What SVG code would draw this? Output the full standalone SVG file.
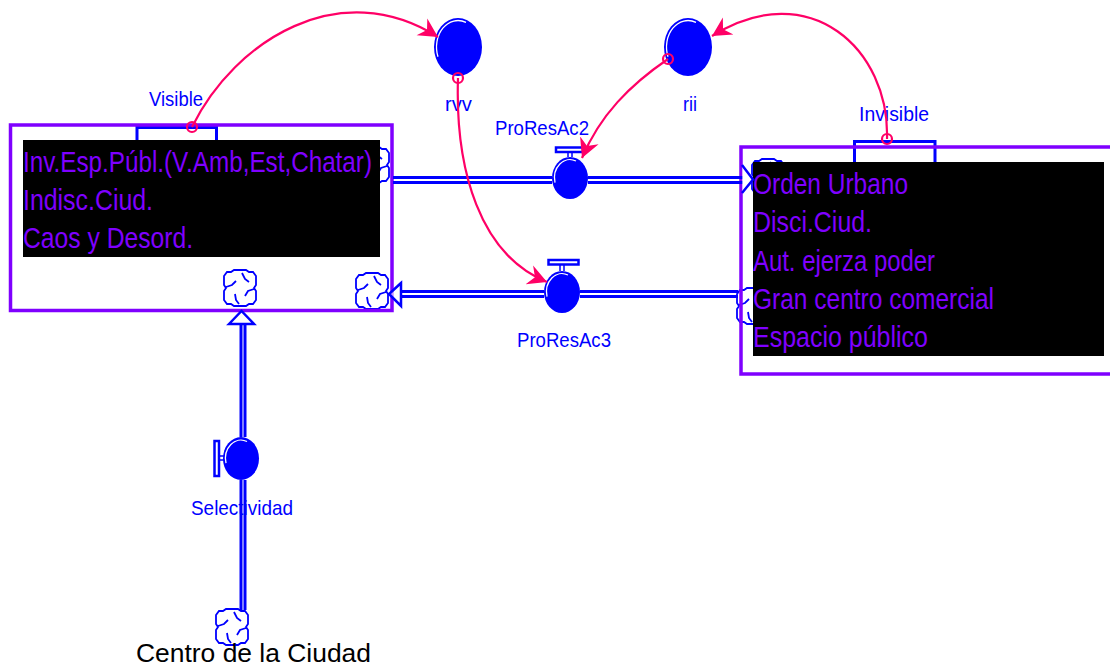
<svg xmlns="http://www.w3.org/2000/svg" width="1110" height="665" viewBox="0 0 1110 665">
<style>
text{font-family:"Liberation Sans",Arial,sans-serif}
.lbl{font-size:21px;fill:#0000ff}
.big{font-size:29px;fill:#7f00ff}
.box{fill:none;stroke:#7f00ff;stroke-width:3.5}
.tab{fill:none;stroke:#0000ff;stroke-width:3}
.panel{fill:#000}
.flow{fill:none;stroke:#0000ff;stroke-width:3}
.head{fill:#fff;fill-opacity:.6;stroke:#0000ff;stroke-width:2.5}
.dot{fill:#0000ff}
.shine{fill:none;stroke:#fff;stroke-width:1.300}
.link{fill:none;stroke:#ff0066;stroke-width:2.2;marker-end:url(#pink)}
.origin{fill:none;stroke:#ff0066;stroke-width:2.200}
.cl{fill:#fff;stroke:#0000ff;stroke-width:1.800}
.sw{fill:none;stroke:#0000ff;stroke-width:1.800}
</style>
<defs>
<marker id="pink" markerUnits="userSpaceOnUse" markerWidth="24" markerHeight="24" refX="19" refY="11" orient="auto"><path d="M0 1L19 11L0 21L6 11Z" fill="#ff0066"/></marker>
<g id="cloud">
<path class="cl" d="M-6-18H6L9-16H13L16-12V-3L14 0L16 3V12L13 16H9L6 18H-6L-9 16H-13L-16 12V3L-14 0L-16-3V-12L-13-16H-9Z"/>
<path class="sw" d="M2-15L5-9L9-6M14 1L8 3L5 8M-1 16L-4 12L-5 6M-14-1L-8-3L-4-7"/>
</g>
</defs>
<g id="stock-visible">
<path class="tab" d="M137 140V127.500H216.500V140"/>
<use href="#cloud" x="373" y="165"/>
<use href="#cloud" x="240" y="288"/>
<use href="#cloud" x="372" y="291"/>
<rect class="box" x="10.500" y="125" width="381.500" height="185.500"/>
<rect class="panel" x="23" y="140" width="357" height="117"/>
<text class="big" x="23" y="172" textLength="349" lengthAdjust="spacingAndGlyphs">Inv.Esp.Públ.(V.Amb,Est,Chatar)</text>
<text class="big" x="23" y="210" textLength="130" lengthAdjust="spacingAndGlyphs">Indisc.Ciud.</text>
<text class="big" x="23" y="248" textLength="170" lengthAdjust="spacingAndGlyphs">Caos y Desord.</text>
<text class="lbl" x="149" y="106" textLength="54" lengthAdjust="spacingAndGlyphs">Visible</text>
</g>
<g id="stock-invisible">
<path class="tab" d="M854.500 162V141.500H935V162"/>
<use href="#cloud" x="768" y="177"/>
<use href="#cloud" x="753" y="306"/>
<rect class="box" x="741" y="147" width="375" height="227"/>
<rect class="panel" x="753" y="162" width="351" height="194"/>
<text class="big" x="753" y="194" textLength="155" lengthAdjust="spacingAndGlyphs">Orden Urbano</text>
<text class="big" x="753" y="232" textLength="119" lengthAdjust="spacingAndGlyphs">Disci.Ciud.</text>
<text class="big" x="753" y="271" textLength="182" lengthAdjust="spacingAndGlyphs">Aut. ejerza poder</text>
<text class="big" x="753" y="309" textLength="241" lengthAdjust="spacingAndGlyphs">Gran centro comercial</text>
<text class="big" x="753" y="347" textLength="175" lengthAdjust="spacingAndGlyphs">Espacio público</text>
<text class="lbl" x="859" y="121" textLength="70" lengthAdjust="spacingAndGlyphs">Invisible</text>
</g>
<g id="converter-rvv">
<ellipse class="dot" cx="458" cy="47" rx="24" ry="29"/>
<path class="shine" d="M438 56.700A21.500 26.500 0 0 1 466 22.400"/>
<text class="lbl" x="445" y="111" textLength="27" lengthAdjust="spacingAndGlyphs">rvv</text>
</g>
<g id="converter-rii">
<ellipse class="dot" cx="688" cy="47" rx="24" ry="29"/>
<path class="shine" d="M668 56.700A21.500 26.500 0 0 1 696 22.400"/>
<text class="lbl" x="683" y="111" textLength="14" lengthAdjust="spacingAndGlyphs">rii</text>
</g>
<g id="valve-proresac2">
<rect class="tab" style="stroke-width:2.500" x="556" y="147.500" width="27" height="4.500"/>
<path class="tab" style="stroke-width:1.500" d="M568 152V157M572 152V157"/>
<ellipse class="dot" cx="570" cy="178" rx="18" ry="21"/>
<path class="shine" d="M555 182.700A15.500 18.500 0 0 1 576 161"/>
<text class="lbl" x="495" y="135" textLength="94" lengthAdjust="spacingAndGlyphs">ProResAc2</text>
</g>
<g id="valve-proresac3">
<rect class="tab" style="stroke-width:2.500" x="548.500" y="260" width="30" height="4.500"/>
<path class="tab" style="stroke-width:1.500" d="M560 265V271M564 265V271"/>
<ellipse class="dot" cx="562" cy="292" rx="18" ry="21"/>
<path class="shine" d="M547 296.700A15.500 18.500 0 0 1 568 275"/>
<text class="lbl" x="517" y="347" textLength="94" lengthAdjust="spacingAndGlyphs">ProResAc3</text>
</g>
<g id="valve-selectividad">
<rect class="tab" style="stroke-width:2.500" x="214.500" y="441" width="4.500" height="35"/>
<path class="tab" style="stroke-width:1.500" d="M219 456H224M219 460H224"/>
<ellipse class="dot" cx="241" cy="458.500" rx="18" ry="21.500"/>
<path class="shine" d="M226 463.200A15.500 18.500 0 0 1 247 441.500"/>
<text class="lbl" x="191" y="515" textLength="102" lengthAdjust="spacingAndGlyphs">Selectividad</text>
</g>
<g id="cloud-centro">
<use href="#cloud" x="232" y="627"/>
<text x="136" y="662" font-size="25" fill="#000" textLength="235" lengthAdjust="spacingAndGlyphs">Centro de la Ciudad</text>
</g>
<g id="connectors">
<path class="flow" d="M393 177.500H552M393 182.500H552M588 177.500H743M588 182.500H743"/>
<path class="head" d="M742 165L753 179.500L742 193"/>
<path class="flow" d="M400 291.500H544M400 296.500H544M580 291.500H738M580 296.500H738"/>
<path class="head" d="M401 283L389 294L401 306Z"/>
<path class="flow" d="M241 324V437M245 324V437M241 480V610M245 480V610"/>
<path class="head" d="M229 324L241.500 311L254 324Z"/>
<path class="link" d="M192 127C235 40 340 -25 438 37"/>
<path class="link" d="M887 139C890 50 810 -25 712 36"/>
<path class="link" d="M458 78C455 170 480 255 547 282"/>
<path class="link" d="M668 59C630 85 600 115 582 158"/>
<circle class="origin" cx="192" cy="127" r="5"/>
<circle class="origin" cx="887" cy="139" r="5"/>
<circle class="origin" cx="458" cy="78" r="5"/>
<circle class="origin" cx="668" cy="59" r="5"/>
</g>
</svg>
